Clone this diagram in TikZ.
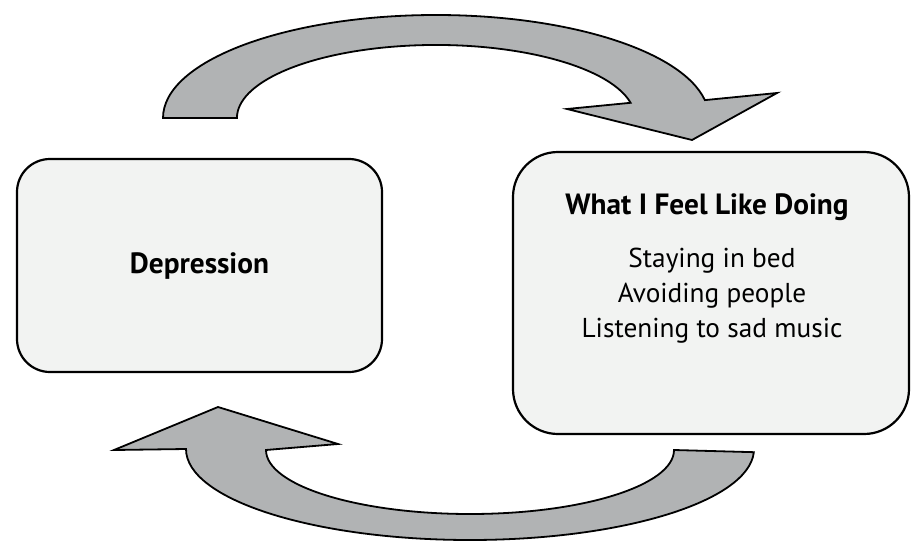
\documentclass[tikz,border=0pt]{standalone}
\usepackage{fontspec}
\setmainfont{PT Sans}
\definecolor{arrowfill}{RGB}{177,179,180}
\definecolor{boxfill}{RGB}{242,243,242}
\begin{document}
\begin{tikzpicture}[x=1pt,y=1pt,
  box/.style={draw=black, line width=2.2pt, fill=boxfill, rounded corners=#1,
    outer sep=0pt, inner sep=0pt, anchor=south west},
  blockarrow/.style={draw=black, line width=1.8pt, fill=arrowfill, line join=miter},
  boldtxt/.style={anchor=base, font=\bfseries\fontsize{29.3}{29.3}\selectfont},
  bodytxt/.style={anchor=base, font=\fontsize{27.3}{27.3}\selectfont}]
\useasboundingbox (0,0) rectangle (912,542);
% boxes
\node[box=33pt, minimum width=365, minimum height=213] (dep) at (17,170) {};
\node[box=45pt, minimum width=396, minimum height=282] (feel) at (513,108) {};
% texts
\node[boldtxt] (deptxt) at (199.5,269) {Depression};
\node[boldtxt] (title) at (707,328) {What I Feel Like Doing};
\node[bodytxt] (l1) at (712,275) {Staying in bed};
\node[bodytxt] (l2) at (712,240) {Avoiding people};
\node[bodytxt] (l3) at (712,205) {Listening to sad music};
% top arrow
\draw[blockarrow] (163,424) arc[start angle=180, end angle=10, x radius=273, y radius=103]
  -- (777,449) -- (692,402) -- (567,433) -- (630.6,439.2)
  arc[start angle=12, end angle=180, x radius=199, y radius=73] -- cycle;
% bottom arrow
\draw[blockarrow] (186,93) arc[start angle=180, end angle=358, x radius=284, y radius=91]
  -- (674,92) arc[start angle=0, end angle=-180, x radius=204, y radius=64]
  -- (338,98) -- (218,135) -- (114,92) -- cycle;
\end{tikzpicture}
\end{document}
